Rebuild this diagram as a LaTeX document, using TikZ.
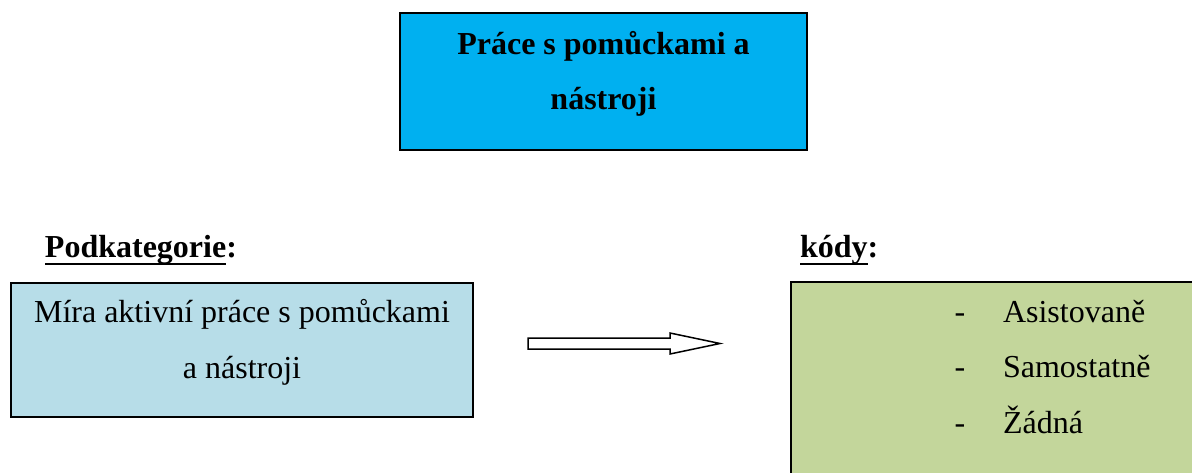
\documentclass[tikz,border=0pt]{standalone}
\usepackage{fontspec}
\setmainfont{Liberation Serif}
\definecolor{topblue}{HTML}{00B0F0}
\definecolor{leftblue}{HTML}{B7DDE8}
\definecolor{codegreen}{HTML}{C3D69B}
\begin{document}
\begin{tikzpicture}[x=1pt,y=-1pt,
  txt/.style={inner sep=0pt, outer sep=0pt, anchor=base, font=\fontsize{32}{38}\selectfont},
  btxt/.style={txt, font=\fontsize{32}{38}\selectfont\bfseries},
  box/.style={draw=black, line width=1.8pt, inner sep=0pt, outer sep=0pt},
  uline/.style={line width=2.6pt},
  blockarrow/.style={draw=black, line width=1.5pt, fill=white, line join=miter},
]
\useasboundingbox (0,0) rectangle (1192,472);
\begin{scope}
\clip (0,0) rectangle (1192,472);
% boxes
\node[box, fill=topblue, minimum width=407pt, minimum height=137pt] (top) at (603.5,81.5) {};
\node[box, fill=leftblue, minimum width=462pt, minimum height=134pt] (sub) at (242,350) {};
\node[box, fill=codegreen, minimum width=500pt, minimum height=300pt, anchor=north west] (codes) at (791,282) {};
\end{scope}
% top title
\node[btxt] (t1) at (603.5,54) {Práce s pomůckami a};
\node[btxt] (t2) at (603.5,109.5) {nástroji};
% headings
\node[btxt, anchor=base west] (pk) at (45,257) {Podkategorie};
\node[btxt, anchor=base west] (pkc) at (pk.base east) {:};
\draw[uline] ([yshift=-7pt]pk.base west) -- ([yshift=-7pt]pk.base east);
\node[btxt, anchor=base west] (kd) at (800,257) {kódy};
\node[btxt, anchor=base west] (kdc) at (kd.base east) {:};
\draw[uline] ([yshift=-7pt]kd.base west) -- ([yshift=-7pt]kd.base east);
% subcategory text
\node[txt] (l1) at (242,322) {Míra aktivní práce s pomůckami};
\node[txt] (l2) at (242,378) {a nástroji};
% codes
\node[txt] (d1) at (960,322) {-};
\node[txt] (d2) at (960,377) {-};
\node[txt] (d3) at (960,433) {-};
\node[txt, anchor=base west] (c1) at (1003,322) {Asistovaně};
\node[txt, anchor=base west] (c2) at (1003,377) {Samostatně};
\node[txt, anchor=base west] (c3) at (1003,433) {Žádná};
% block arrow
\draw[blockarrow] (528,338) -- (670,338) -- (670,333) -- (720,343.5) -- (670,354) -- (670,349) -- (528,349) -- cycle;
\end{tikzpicture}
\end{document}
